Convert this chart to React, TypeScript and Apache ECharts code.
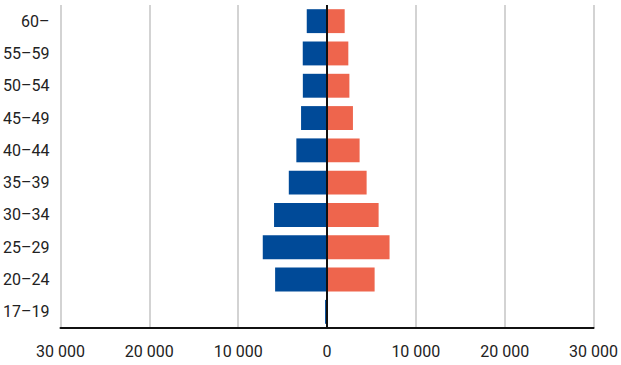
import React, { useEffect, useRef } from "react";
import * as echarts from "echarts";

const categories = ["17–19", "20–24", "25–29", "30–34", "35–39", "40–44", "45–49", "50–54", "55–59", "60–"];
const leftValues = [220, 5840, 7230, 5960, 4300, 3450, 2920, 2720, 2730, 2280];
const rightValues = [70, 5360, 7040, 5810, 4460, 3670, 2920, 2520, 2400, 1990];
const xTicks = { min: -30000, max: 30000, interval: 10000 };

function fmt(v: number): string {
  const s = String(Math.round(Math.abs(v)));
  return s.replace(/\B(?=(\d{3})+(?!\d))/g, " ");
}

const FONT = "Roboto, sans-serif";

export default function App() {
  const ref = useRef<HTMLDivElement>(null);
  useEffect(() => {
    if (!ref.current) return;
    const chart = echarts.init(ref.current, undefined, { renderer: "svg" });
    chart.setOption({
      animation: false,
      grid: { left: 60, right: 27, top: 5, bottom: 37, containLabel: false },
      xAxis: {
        type: "value",
        min: xTicks.min,
        max: xTicks.max,
        interval: xTicks.interval,
        axisLine: { show: true, lineStyle: { color: "#111", width: 2 } },
        axisTick: { show: false },
        axisLabel: {
          formatter: (v: number) => fmt(v),
          color: "#222",
          fontFamily: FONT,
          fontSize: 16,
          margin: 15,
        },
        splitLine: { show: true, lineStyle: { color: "#c4c4c4", width: 1.5 } },
      },
      yAxis: {
        type: "category",
        data: categories,
        axisLine: { show: false },
        axisTick: { show: false },
        splitLine: { show: false },
        axisLabel: {
          color: "#222",
          fontFamily: FONT,
          fontSize: 16,
          margin: 11,
        },
      },
      series: [
        {
          type: "bar",
          name: "left",
          stack: "total",
          data: leftValues.map((v) => -v),
          barCategoryGap: "26%",
          itemStyle: { color: "#004a98" },
          markLine: {
            silent: true,
            symbol: "none",
            label: { show: false },
            lineStyle: { color: "#111", width: 2, type: "solid" },
            data: [{ xAxis: 0 }],
          },
        },
        {
          type: "bar",
          name: "right",
          stack: "total",
          data: rightValues,
          barCategoryGap: "26%",
          itemStyle: { color: "#ee654d" },
        },
      ],
    });
    return () => chart.dispose();
  }, []);
  return (
    <div
      ref={ref}
      style={{ position: "fixed", left: 0, top: 0, width: 621, height: 365, background: "#fff" }}
    />
  );
}
